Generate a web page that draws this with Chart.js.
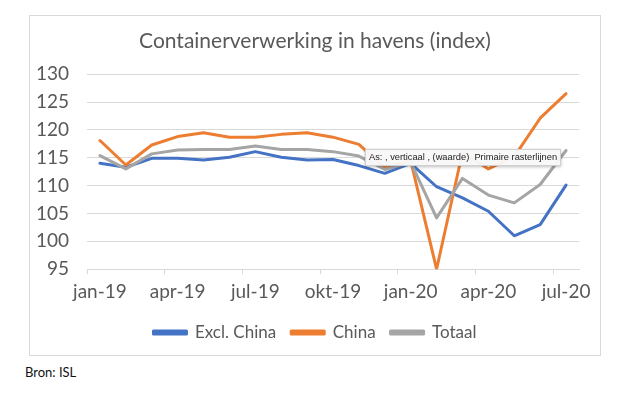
<!DOCTYPE html>
<html>
<head>
<meta charset="utf-8">
<script src="https://cdn.jsdelivr.net/npm/chart.js@4"></script>
<style>
  body { margin: 0; background: #fff; width: 625px; height: 396px; position: relative; overflow: hidden; }
  #box { position: absolute; left: 29px; top: 15px; width: 572px; height: 341px; border: 1px solid #d9d9d9; box-sizing: border-box; }
  #tip { position: absolute; left: 365px; top: 149px; height: 15px; padding: 0 3px; background: rgba(248,248,248,0.96);
         border: 1px solid #d0d0d0; box-shadow: 0 1px 3px rgba(0,0,0,0.25); font: 9.3px "Liberation Sans", sans-serif;
         color: #222; line-height: 14px; white-space: pre; }
  #src { position: absolute; left: 25px; top: 364px; font: 13px Lato, sans-serif; color: #111; }
</style>
</head>
<body>
<div id="box"><canvas id="chart" width="570" height="339"></canvas></div>
<div id="tip">As: , verticaal , (waarde)  Primaire rasterlijnen</div>
<div id="src">Bron: ISL</div>
<script>
// months jan-19 .. jul-20
const months = ["jan-19", "feb-19", "mrt-19", "apr-19", "mei-19", "jun-19", "jul-19", "aug-19", "sep-19",
  "okt-19", "nov-19", "dec-19", "jan-20", "feb-20", "mrt-20", "apr-20", "mei-20", "jun-20", "jul-20"];
const exclChina = [114.0, 113.3, 114.9, 114.9, 114.6, 115.1, 116.1, 115.1, 114.6, 114.7,
  113.6, 112.2, 114.0, 109.8, 107.8, 105.4, 101.0, 103.0, 110.1];
const china = [118.1, 113.7, 117.3, 118.8, 119.5, 118.7, 118.7, 119.2, 119.5, 118.7,
  117.4, 113.2, 114.5, 95.0, 116.0, 113.0, 115.2, 122.1, 126.5];
const totaal = [115.4, 113.0, 115.7, 116.4, 116.5, 116.5, 117.1, 116.5, 116.5, 116.1,
  115.3, 112.9, 114.2, 104.2, 111.3, 108.3, 106.9, 110.2, 116.3];
const seriesNames = ["Excl. China", "China", "Totaal"];
const colors = ["#4472C4", "#ED7D31", "#A5A5A5"];

const font = "Lato, sans-serif";
const textColor = "#595959";

function line(label, data, color, order) {
  return {
    label: label,
    data: data,
    borderColor: color,
    backgroundColor: color,
    borderWidth: 3,
    pointRadius: 0,
    tension: 0,
    borderJoinStyle: "round",
    borderCapStyle: "round",
    order: order,
  };
}

const ctx = document.getElementById("chart").getContext("2d");
new Chart(ctx, {
  type: "line",
  data: {
    labels: months,
    datasets: [
      line(seriesNames[0], exclChina, colors[0], 2),
      line(seriesNames[1], china, colors[1], 1),
      line(seriesNames[2], totaal, colors[2], 0),
    ],
  },
  options: {
    responsive: false,
    animation: false,
    layout: { padding: { left: 0, right: 0, top: 13, bottom: 4 } },
    plugins: {
      tooltip: { enabled: false },
      title: {
        display: true,
        text: "Containerverwerking in havens (index)",
        color: textColor,
        font: { family: font, size: 21, weight: "normal" },
        padding: { top: 0, bottom: 20 },
      },
      legend: {
        position: "bottom",
        labels: {
          color: textColor,
          font: { family: font, size: 17 },
          boxWidth: 33,
          boxHeight: 3,
          padding: 15,
          sort: (a, b) => a.datasetIndex - b.datasetIndex,
        },
      },
    },
    scales: {
      x: {
        offset: true,
        grid: {
          offset: true,
          drawOnChartArea: false,
          drawTicks: true,
          tickLength: 5,
          color: (c) => (c.index % 3 === 0 ? "#d9d9d9" : "rgba(0,0,0,0)"),
        },
        border: { color: "#d9d9d9" },
        ticks: {
          autoSkip: false,
          maxRotation: 0,
          color: textColor,
          font: { family: font, size: 19 },
          padding: 6,
          callback: (v, i) => (i % 3 === 0 ? months[i] : ""),
        },
      },
      y: {
        min: 95,
        max: 130,
        ticks: {
          stepSize: 5,
          color: textColor,
          font: { family: font, size: 19 },
          padding: 18,
        },
        grid: { color: "#d9d9d9", drawTicks: false },
        border: { display: false },
        afterFit: (s) => { s.width = 57; },
      },
      // empty right-hand spacer so the plot ends where the reference does
      yRight: {
        position: "right",
        grid: { display: false },
        border: { display: false },
        ticks: { display: false },
        afterFit: (s) => { s.width = 21; },
      },
    },
  },
});
</script>
</body>
</html>
